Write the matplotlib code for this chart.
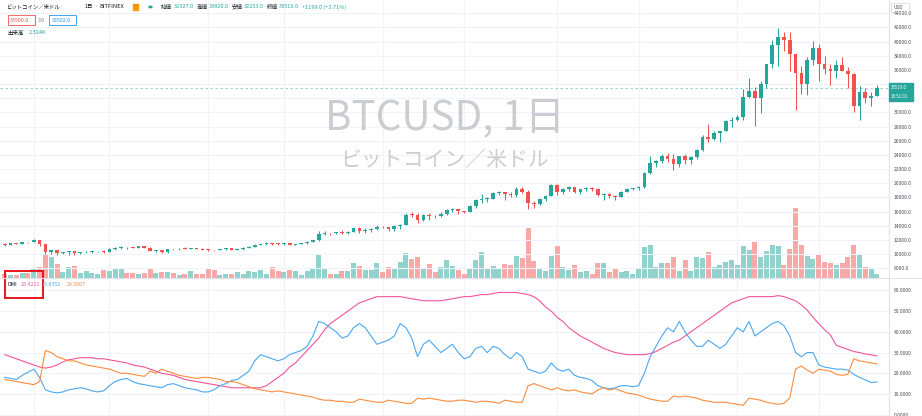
import matplotlib
matplotlib.use('Agg')
import matplotlib.pyplot as plt
from matplotlib.patches import Rectangle, Circle
from matplotlib.lines import Line2D
import numpy as np

plt.rcParams['font.family'] = ['Noto Sans CJK JP', 'DejaVu Sans']

# ---------------- data (daily BTCUSD, Bitfinex) ----------------
opens = [11470,11330,11540,11470,11710,11680,11970,11410,10250,10510,
         10170,10280,10370,10130,10240,10360,10400,10440,10330,10680,
         10790,10950,10940,10930,11080,10920,10420,10530,10240,10740,
         10690,10770,10700,10840,10780,10620,10570,10550,10670,10790,
         10600,10670,10920,11060,11300,11380,11550,11430,11420,11500,
         11330,11370,11510,11750,11920,12820,12980,12930,13120,13040,
         13070,13640,13280,13460,13560,13800,13760,13550,14020,14150,
         15590,15580,14840,15480,15330,15310,15700,16280,16320,16070,
         15960,16730,17660,17800,17820,18670,18710,18430,18370,19160,
         18740,17150,17140,17720,18180,19700,18780,19220,19450,18700,
         19150,19360,19170,18320,18550,18260,18040,18800,19170,19270,
         19440,21380,22830,23150,23870,23480,22750,23830,23240,23730,
         24710,26490,26280,27080,27360,28860,28990,29400,32200,33000,
         32030,34050,36860,39490,40670,40240,38240,35540,34010,37390,
         39160,36830,36070,35800,36630,35890,35470,30850,32950,32080,
         32327]
highs = [11590,11560,11590,11720,11770,12090,11990,11460,10610,10580,
         10350,10400,10440,10350,10500,10400,10480,10580,10800,10940,
         11100,11040,11040,11180,11080,10990,10580,10540,10780,10760,
         10800,10950,10860,10850,10920,10660,10600,10690,10800,10800,
         10690,10950,11100,11480,11440,11720,11560,11550,11630,11540,
         11410,11520,11820,12030,13220,13190,13030,13170,13350,13250,
         13790,13860,13640,13690,14100,13900,13830,14070,14240,15770,
         15970,15770,15650,15850,15460,15950,16340,16480,16330,16140,
         16880,17800,18480,18120,18800,18960,18730,18760,19420,19480,
         19000,17470,17900,18340,19860,19920,19300,19600,19520,19170,
         19420,19410,19280,18640,18570,18280,18950,19400,19330,19560,
         21560,23800,23280,24170,24300,24100,23840,24120,23790,24790,
         26870,28420,27410,27410,28990,29320,29600,33300,34800,33600,
         34500,36900,40300,41950,41400,41350,38300,36600,37850,40100,
         39700,37950,36800,37400,37850,36400,35600,33800,33400,32900,
         33820]
lows = [11140,11290,11420,11460,11600,11660,11200,10030,10040,9900,
        10020,9880,9850,10000,10200,10200,10300,10220,10260,10640,
        10690,10750,10820,10900,10800,10370,10360,10140,10200,10600,
        10620,10680,10650,10670,10520,10380,10490,10520,10630,10540,
        10580,10540,10840,11050,11280,11240,11320,11300,11270,11220,
        11300,11360,11420,11700,11900,12700,12720,12900,12900,12800,
        13050,12950,12990,13130,13450,13630,13220,13300,13540,14100,
        15220,14360,14710,14840,15080,15280,15450,15980,15720,15870,
        15880,16570,17230,17380,17760,18400,17640,18000,18040,18580,
        16330,16490,16890,17530,18180,18320,18520,18930,18580,18520,
        18880,18920,18250,17650,17930,17580,18020,18730,19000,19070,
        19300,21250,22350,22800,23070,21900,22360,22700,22700,23440,
        24520,25860,26100,25880,27320,27880,28800,29000,32000,28130,
        29900,33500,36300,36500,38720,35800,30400,32600,32400,36700,
        34400,35400,33900,34800,35900,33400,30100,28900,31400,30900,
        32253]
closes = [11330,11540,11470,11710,11680,11970,11410,10250,10510,10170,
          10280,10370,10130,10240,10360,10400,10440,10330,10680,10790,
          10950,10940,10930,11080,10920,10420,10530,10240,10740,10690,
          10770,10700,10840,10780,10620,10570,10550,10670,10790,10600,
          10670,10920,11060,11300,11380,11550,11430,11420,11500,11330,
          11370,11510,11750,11920,12820,12980,12930,13120,13040,13070,
          13640,13280,13460,13560,13800,13760,13550,14020,14150,15590,
          15580,14840,15480,15330,15310,15700,16280,16320,16070,15960,
          16730,17660,17800,17820,18670,18710,18430,18370,19160,18740,
          17150,17140,17720,18180,19700,18780,19220,19450,18700,19150,
          19360,19170,18320,18550,18260,18040,18800,19170,19270,19440,
          21380,22830,23150,23870,23480,22750,23830,23240,23730,24710,
          26490,26280,27080,27360,28860,28990,29400,32200,33000,32030,
          34050,36860,39490,40670,40240,38240,35540,34010,37390,39160,
          36830,36070,35800,36630,35890,35470,30850,32950,32080,32320,
          33519]
volume_k = [2.3,1.7,1.7,2.9,2.9,5.2,6.4,13.9,12.2,8.1,3.5,
            6.4,7.0,2.9,4.1,2.9,2.3,4.6,4.1,5.2,5.2,
            2.9,2.9,2.3,2.9,5.8,2.9,3.5,3.5,2.9,1.7,
            2.3,4.1,2.3,2.3,5.8,4.6,1.7,2.3,2.3,3.5,
            2.3,4.1,3.5,4.6,2.3,6.4,4.1,3.5,4.6,4.1,
            1.7,4.1,5.2,13.3,5.8,2.3,2.3,4.1,4.1,8.7,
            7.0,4.6,4.6,8.7,3.5,6.4,5.8,9.3,14.5,11.0,
            12.2,5.8,8.1,3.5,6.4,10.4,7.0,4.6,2.3,5.8,
            10.4,15.1,5.2,7.0,5.8,8.1,7.5,12.8,11.6,29.0,
            9.9,5.2,4.1,12.8,18.6,6.4,4.6,7.5,3.5,4.1,
            2.3,8.7,8.7,3.5,5.8,3.5,4.1,2.3,5.8,18.0,
            19.1,6.4,8.7,8.7,12.2,4.1,10.4,4.1,12.2,11.6,
            15.1,6.4,7.5,9.3,10.4,7.5,18.6,16.2,20.9,12.2,
            15.7,19.1,18.6,7.5,16.8,40.6,19.1,12.8,11.0,13.3,
            9.3,8.7,7.5,8.7,12.2,19.1,13.3,6.4,5.2,2.324]
adx = [29,28,27,26,25,24,23,22.5,23,24,
       25.5,26.5,27,27.5,27.5,27.5,27,27,26.5,26,
       25.5,25,24,23.5,23,22,21,20,19.5,19,
       18,17,16.5,16,15.5,15,14.5,14,13.5,13,
       13,13,13,13,13,14,16,18,20,23,
       25,28,31,34,37,41,44,46,48,50,
       52,54,55,56,57,57,57,57,57,56.5,
       56,55.5,55,55,55,55,55.5,56,56.5,57,
       57,57.5,58,58,58.5,59,59,59,59,58.5,
       58,57,55,52,50,47,45,42,40,38,
       36.5,35,33.5,32,31,30,29.5,29,29,29,
       29,29.5,30.5,32,33.5,35,36,38,40,42,
       44,46,48,50,52,54,55,56,57,57,
       57,57,57,57.5,57,56,55,53,50.5,47,
       44,41,38.5,33.5,32.5,31.5,30.5,30,29.3,28.9,
       28.4221]
plus_di = [18,17.5,17,19,20.5,22,18,12,11,10.5,
           11,12,12.5,13,12.5,11.5,11,11.5,14,16,
           17,17.5,16,15,14.5,14,13.5,13,14.5,15,
           14,13,12.5,12,11,11,12,14,15,16.5,
           17,19,21,26,29,28,27,26,27,29,
           30,31,33,38,45,44,42,40,37,38,
           42,44,42,38,34,35,36,38,44,42,
           37,28,34,36,33,30,32,34,30,27,
           28,32,33,30,33,32,29,27,30,28,
           22,21,20,21,25,22,21,22,19,18,
           17.5,16.5,14,13,12.5,13,14,14,13.5,14,
           20,28,33,38,42,40,45,40,36,33,
           33,36,34,32,34,38,42,40,45,38,
           40,42,44,45,43,38,30,28,30,30,
           24,23,22.5,22,22,21.5,19.5,18,16.8,15.5,
           15.8352]
minus_di = [17,16.5,16,15.5,15,14.5,16,31,30,28,
            27,26,26,25,24,23.5,23,22.5,22,21,
            20,20,19.5,19,18.5,21,20,22,21,20,
            19,18.5,18,17.5,18,18,17.5,17,16,16,
            15.5,14.5,13.5,12.5,12,11.5,11,11.5,11,10.5,
            10,9.5,9,8.5,7.5,7,7,6.5,6.5,6,
            6,7.5,7,6.5,6,6,7,6.5,6,5.5,
            5.5,8,7.5,8,7.5,7,6.5,6.5,7,7,
            6.5,6,6.5,6.5,6,5.5,7,6.5,6,6,
            14,15,14,13,12,13,12,11.5,12,11,
            10.5,10,12,13,12,12.5,11.5,10.5,10,9.5,
            8.5,7.5,7,6.5,6.5,9,8.5,9,8.5,8,
            7,6.5,6,6,6,5.5,5,4.5,8,7.5,
            7,6,5.5,5,5.5,8,22,23.5,21.5,20,
            22,21.5,21,19.5,19,19.5,27,26,25.5,25,
            24.5007]
price_ticks = list(range(8000, 44001, 2000))
hidden_price_ticks = [32000, 34000]   # covered by the last-price label
dmi_ticks = [0, 10, 20, 30, 40, 50, 60]
vgrid_idx = [5, 18, 35, 48, 65, 79, 95, 109, 126, 140]

# ---------------- layout ----------------
W, H = 922, 416
fig = plt.figure(figsize=(W / 100, H / 100), dpi=100)
fig.patch.set_facecolor('white')

def ax_px(x0, y0, x1, y1, **kw):
    return fig.add_axes([x0 / W, 1 - y1 / H, (x1 - x0) / W, (y1 - y0) / H], **kw)

PANE_R = 889
SEP = 278
UP = '#26a69a'
DN = '#ef5350'
UPV = '#92d2cc'
DNV = '#f7a9a7'
GRID = '#f0f3fa'
TXT = '#4a4e59'
DARK = '#131722'

n = len(closes)
x = np.arange(n)
xlim = (-0.81, 152.07)

# background axis: grid + volume
axv = ax_px(0, 0, PANE_R, SEP)
axv.set_xlim(*xlim)
axv.set_ylim(0, 161.2)
for xi in vgrid_idx:
    axv.axvline(xi, color=GRID, lw=0.8, zorder=0)
vcol = [UPV if c >= o else DNV for o, c in zip(opens, closes)]
axv.bar(x, volume_k, width=0.86, color=vcol, zorder=2)
axv.axis('off')

# price axis on top
ax = ax_px(0, 0, PANE_R, SEP, sharex=axv)
ax.patch.set_visible(False)
ax.set_ylim(6624, 45878)
for t in price_ticks:
    ax.axhline(t, color=GRID, lw=0.8, zorder=0)
ccol = [UP if c >= o else DN for o, c in zip(opens, closes)]
ax.vlines(x, lows, highs, colors=ccol, lw=0.75, zorder=3)
bottoms = [min(o, c) for o, c in zip(opens, closes)]
heights = [max(abs(c - o), 90) for o, c in zip(opens, closes)]
ax.bar(x, heights, bottom=bottoms, width=0.64, color=ccol, zorder=4)
ax.axhline(closes[-1], color=UP, lw=0.6, ls=(0, (3, 3)), alpha=0.55, zorder=2)

ax.set_yticks(price_ticks)
ax.set_yticklabels(['' if t in hidden_price_ticks else f'{t:.1f}' for t in price_ticks])
ax.yaxis.tick_right()
ax.tick_params(axis='y', length=0, pad=3.5, labelsize=3.6, labelcolor=TXT)
ax.tick_params(axis='x', bottom=False, labelbottom=False)
for s in ['top', 'left', 'bottom']:
    ax.spines[s].set_visible(False)
ax.spines['right'].set_color('#e0e3eb')
ax.spines['right'].set_linewidth(0.8)

# watermark
ax.text(0.5, 0.575, 'BTCUSD, 1日', transform=ax.transAxes, ha='center', va='center',
        fontsize=29, color='#cccdd1', zorder=1)
ax.text(0.5, 0.425, 'ビットコイン／米ドル', transform=ax.transAxes, ha='center', va='center',
        fontsize=15, color='#cccdd1', zorder=1)

# DMI pane
axd = ax_px(0, SEP, PANE_R, H, sharex=axv)
axd.set_ylim(-0.63, 66.0)
for t in dmi_ticks:
    axd.axhline(t, color=GRID, lw=0.8, zorder=0)
for xi in vgrid_idx:
    axd.axvline(xi, color=GRID, lw=0.8, zorder=0)
axd.plot(x, adx, color='#f2549b', lw=0.8, zorder=3)
axd.plot(x, plus_di, color='#4aa8f0', lw=0.8, zorder=3)
axd.plot(x, minus_di, color='#fb8c3c', lw=0.8, zorder=3)
axd.set_yticks(dmi_ticks)
axd.set_yticklabels([f'{t:.4f}' for t in dmi_ticks])
axd.yaxis.tick_right()
axd.tick_params(axis='y', length=0, pad=3.5, labelsize=3.6, labelcolor=TXT)
axd.tick_params(axis='x', bottom=False, labelbottom=False)
for s in ['top', 'left', 'bottom']:
    axd.spines[s].set_visible(False)
axd.spines['right'].set_color('#e0e3eb')
axd.spines['right'].set_linewidth(0.8)

# pane separator
fig.add_artist(Line2D([0, 1], [1 - SEP / H, 1 - SEP / H], color='#e0e3eb', lw=0.8))

def ftxt(px, py, s, color=TXT, size=3.6, **kw):
    fig.text(px / W, 1 - py / H, s, color=color, fontsize=size, va='center', ha='left', **kw)

# header
ftxt(7, 7, 'ビットコイン／米ドル', color=DARK, size=3.9)
ftxt(60, 7, '·', color=DARK, size=3.9)
ftxt(85, 7, '1日', color=DARK, size=3.9)
ftxt(95, 7, '·', color=DARK, size=3.9)
ftxt(99, 7, 'BITFINEX', color=DARK, size=4.1)
fig.add_artist(Rectangle((133 / W, 1 - 10 / H), 4.5 / W, 5.5 / H, color='#ff9800', transform=fig.transFigure))
fig.add_artist(Circle((150.5 / W, 1 - 7 / H), 2.6 / W, color='#d9efec', transform=fig.transFigure))
fig.add_artist(Circle((150.5 / W, 1 - 7 / H), 1.3 / W, color=UP, transform=fig.transFigure))
pairs = [(161, '始値', DARK), (174, '32327.0', UP), (197, '高値', DARK), (209, '33820.0', UP),
         (232, '安値', DARK), (244, '32253.0', UP), (267, '終値', DARK), (279, '33519.0', UP),
         (302, '+1199.0 (+3.71%)', UP)]
for px, s, c in pairs:
    ftxt(px, 7, s, color=c, size=4.0)

# bid / ask boxes
fig.add_artist(Rectangle((7.5 / W, 1 - 25 / H), 27 / W, 10 / H, fill=False, ec=DN, lw=0.6,
                         transform=fig.transFigure))
ftxt(10, 20, '33500.0', color=DN, size=3.9)
ftxt(37.5, 20, '3.0', color='#787b86', size=3.7)
fig.add_artist(Rectangle((49 / W, 1 - 25 / H), 27 / W, 10 / H, fill=False, ec='#2196f3', lw=0.6,
                         transform=fig.transFigure))
ftxt(51.5, 20, '33502.0', color='#2196f3', size=3.9)
ftxt(7, 33, '出来高', color=DARK, size=4.0)
ftxt(29, 33, '2.324K', color=UP, size=4.0)

# DMI legend
ftxt(7, 284, 'DMI', color=DARK, size=3.9)
ftxt(21, 284, '28.4221', color='#f2549b', size=3.8)
ftxt(41, 284, '15.8352', color='#4aa8f0', size=3.8)
ftxt(67, 284, '24.5007', color='#fb8c3c', size=3.8)
fig.add_artist(Rectangle((5 / W, 1 - 298 / H), 38 / W, 27 / H, fill=False, ec='#e8141c', lw=1.4,
                         transform=fig.transFigure))

# right-axis extras
fig.add_artist(Rectangle((891 / W, 1 - 12 / H), 18 / W, 9 / H, fill=False, ec='#d1d4dc', lw=0.5,
                         transform=fig.transFigure))
ftxt(893.5, 7.5, 'USD', color=TXT, size=3.4)
fig.add_artist(Rectangle((888.5 / W, 1 - 100.5 / H), 24 / W, 18 / H, color=UP,
                         transform=fig.transFigure))
ftxt(891, 87.3, '33519.0', color='white', size=3.2)
ftxt(891, 96.3, '16:51:01', color='white', size=3.2)

fig.savefig('out.png', dpi=100, facecolor='white')
